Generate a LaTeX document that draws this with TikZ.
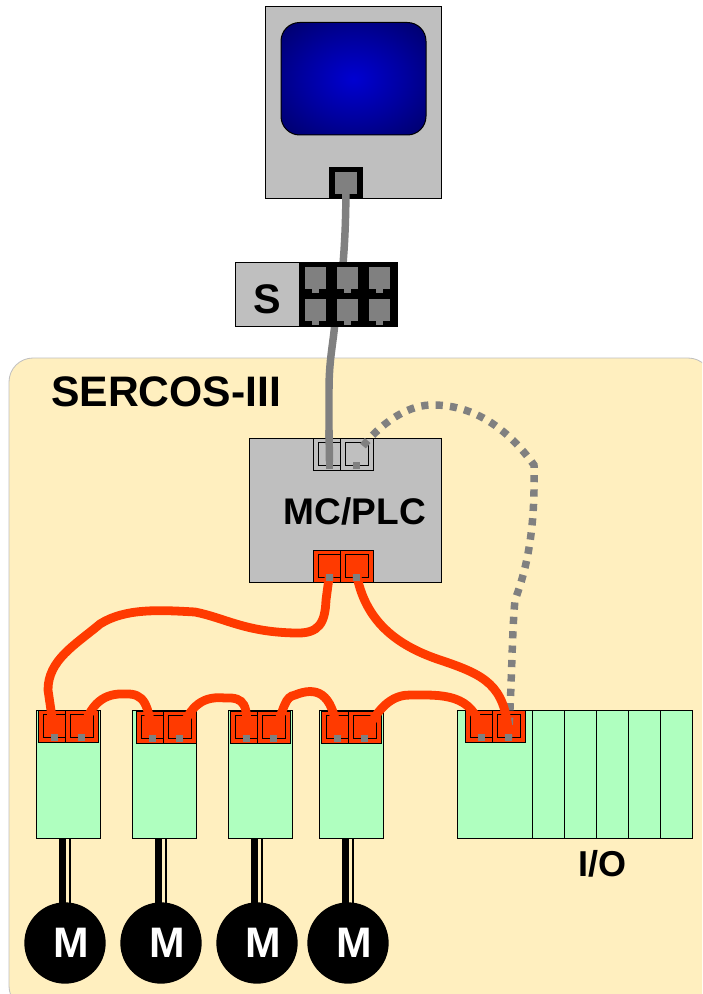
\documentclass[tikz,border=0pt]{standalone}
\usepackage{fontspec}
\setmainfont{Liberation Sans}
\usetikzlibrary{calc}
\definecolor{panelc}{HTML}{FFEFBF}
\definecolor{boxgray}{HTML}{BFBFBF}
\definecolor{cablegray}{HTML}{808080}
\definecolor{redc}{HTML}{FF3A00}
\definecolor{greenc}{HTML}{AFFFBF}
\pgfdeclareradialshading{screenshade}{\pgfpoint{0bp}{0bp}}{
  rgb(0bp)=(0,0,0.82);
  rgb(18bp)=(0,0,0.62);
  rgb(50bp)=(0,0,0.24);
  rgb(72bp)=(0,0,0.18)}
\tikzset{
  x=0.75pt,y=-0.75pt,
  box/.style={draw=black,line width=0.75pt,fill=boxgray,inner sep=0,outer sep=0,anchor=north west},
  dev/.style={draw=black,line width=0.75pt,fill=greenc,inner sep=0,outer sep=0,anchor=north west},
  sock/.style={draw=black,line width=0.75pt,inner sep=0,outer sep=0,anchor=north west,minimum height=24pt},
  redsock/.style={sock,fill=redc},
  graysock/.style={sock,fill=boxgray,line width=0.5pt},
  pin/.style={fill=cablegray,inner sep=0,outer sep=0,minimum size=5.2pt},
  cgray/.style={draw=cablegray,line width=5.6pt},
  cred/.style={draw=redc,line width=6.6pt,line cap=round},
  cdot/.style={draw=cablegray,line width=5.6pt,dash pattern=on 5.4pt off 5.4pt},
  lbl/.style={font=\bfseries,inner sep=0},
  motor/.style={circle,fill=black,inner sep=0,minimum size=61pt},
  motortext/.style={inner sep=0,text=white,font=\bfseries\fontsize{32}{32}\selectfont},
  shafta/.style={draw=black,line width=5.2pt},
  shaftb/.style={draw=black,line width=1.7pt},
  swport/.style={fill=cablegray,inner sep=0,outer sep=0,minimum width=15.8pt,minimum height=16.5pt,anchor=north west},
}
% name, x, y, style, line width of the inner outline
\newcommand{\portpair}[5]{%
  \node[#4,minimum width=20.25pt] (#1a) at (#2,#3) {};
  \node[#4,minimum width=24.75pt] (#1b) at (#2+27,#3) {};
  \draw[line width=#5] ($(#1a.north west)+(5,4)$) rectangle ($(#1a.south east)+(0,-5)$);
  \draw[line width=#5] ($(#1b.north west)+(5,4)$) rectangle ($(#1b.south east)+(-5,-5)$);
}
\newcommand{\pins}[1]{%
  \node[pin] at ($(#1a.south)+(3,-4.5)$) (#1pa) {};
  \node[pin] at ($(#1b.south)+(0,-4.5)$) (#1pb) {};
}
\newcommand{\swsock}[3]{%
  \node[swport] (#1) at (#2,#3) {};
  \fill[cablegray] (#2+7,#3+22) rectangle (#2+14,#3+26);
}
\begin{document}
\begin{tikzpicture}
\useasboundingbox (0,0) rectangle (702,994);
\clip (0,0) rectangle (702,994);
\fill[white] (0,0) rectangle (702,994);
% panel
\draw[fill=panelc,draw=boxgray,line width=0.6pt,rounded corners=18pt] (9,358) rectangle (712,1010) ;
\node[lbl,font=\bfseries\fontsize{32}{32}\selectfont,anchor=base west] (title) at (51,406) {SERCOS-III};
% monitor
\node[box,minimum width=132pt,minimum height=144pt] (monitor) at (265,6.5) {};
\shade[shading=screenshade,rounded corners=14pt] (281,22.5) rectangle (426,135);
\draw[black,line width=0.75pt,rounded corners=14pt] (281,22.5) rectangle (426,135);
\node[fill=black,inner sep=0,minimum width=25pt,minimum height=24pt,anchor=north west] (monport) at (329,166.5) {};
\node[fill=cablegray,inner sep=0,minimum width=16pt,minimum height=16.5pt,anchor=north west] (monsock) at (335,171.5) {};
% cables that pass behind the switch
\coordinate (swtop) at (343,264);
\coordinate (swbot) at (335,322);
\draw[cgray] (monsock.center) .. controls (346,215) and (345,240) .. (swtop);
\draw[cgray] (swbot) .. controls (333,345) and (329,360) .. (329,390) -- (329,440);
% switch
\node[box,minimum width=122pt,minimum height=48pt] (switch) at (235,262.5) {};
\node[fill=black,inner sep=0,minimum width=73.5pt,minimum height=48pt,anchor=north west] (swblack) at (299,262.5) {};
\node[lbl,font=\bfseries\fontsize{31}{31}\selectfont,anchor=base] (slabel) at (267,314) {S};
\swsock{sa}{305}{267}\swsock{sb}{337}{267}\swsock{sc}{369}{267}
\swsock{sd}{305}{299}\swsock{se}{337}{299}\swsock{sf}{369}{299}
% MC/PLC
\node[box,minimum width=144pt,minimum height=108pt] (plc) at (249,438) {};
\node[lbl,font=\bfseries\fontsize{27.8}{28}\selectfont,anchor=base] (plclabel) at (355,524) {MC/PLC};
\portpair{mg}{313}{438}{graysock}{0.5pt}
\portpair{mr}{313}{550}{redsock}{0.75pt}
% devices
\node[dev,minimum width=48pt,minimum height=96pt] (d1) at (36,710) {};
\node[dev,minimum width=48pt,minimum height=96pt] (d2) at (132,710) {};
\node[dev,minimum width=48pt,minimum height=96pt] (d3) at (228,710) {};
\node[dev,minimum width=48pt,minimum height=96pt] (d4) at (319,710) {};
\node[dev,minimum width=56.25pt,minimum height=96pt] (io0) at (457,710) {};
\node[dev,minimum width=24pt,minimum height=96pt] (io1) at (532,710) {};
\node[dev,minimum width=24pt,minimum height=96pt] (io2) at (564,710) {};
\node[dev,minimum width=24pt,minimum height=96pt] (io3) at (596,710) {};
\node[dev,minimum width=24pt,minimum height=96pt] (io4) at (628,710) {};
\node[dev,minimum width=24pt,minimum height=96pt] (io5) at (660,710) {};
\node[lbl,font=\bfseries\fontsize{27}{27}\selectfont,anchor=base] (iolabel) at (602,876) {I/O};
\portpair{pa}{38}{710}{redsock}{0.75pt}
\portpair{pb}{136}{711}{redsock}{0.75pt}
\portpair{pc}{230}{711}{redsock}{0.75pt}
\portpair{pd}{321}{711}{redsock}{0.75pt}
\portpair{pe}{465}{710}{redsock}{0.75pt}
% motors
\node[motor] (m1) at (65,943) {};
\node[motor] (m2) at (161,943) {};
\node[motor] (m3) at (257,943) {};
\node[motor] (m4) at (348,943) {};
\foreach \d/\m in {d1/m1,d2/m2,d3/m3,d4/m4}{
  \draw[shafta] ($(\m.center |- \d.south)+(-2.5,0)$) -- ($(\m.north)+(-2.5,2)$);
  \draw[shaftb] ($(\m.center |- \d.south)+(5,0)$) -- ($(\m.north)+(5,2)$);
  \node[motortext] at ($(\m.center)+(6,0)$) {M};
}
% pins
\pins{mg}\pins{mr}\pins{pa}\pins{pb}\pins{pc}\pins{pd}\pins{pe}
% gray cable into the PLC
\draw[cgray] (329,430) -- (mgpa.north);
% dotted cable
\coordinate (dotstart) at (363,446);
\draw[cdot] (dotstart) .. controls (380,425) and (405,406) .. (430,405)
  .. controls (470,404) and (505,425) .. (534,465)
  .. controls (535,520) and (530,560) .. (515,600)
  .. controls (512,630) and (512,680) .. (pepb.center);
% red cables
\draw[cred] (mrpa.north) -- (326,600) .. controls (325,622) and (320,634) .. (295,633)
  .. controls (245,632) and (225,618) .. (195,612)
  .. controls (160,610) and (125,608) .. (100,624)
  .. controls (75,645) and (48,660) .. (48,690) -- (papa.north);
\draw[cred] (mrpb.north) .. controls (365,620) and (395,645) .. (440,660)
  .. controls (485,675) and (505,685) .. (pepb.north);
\draw[cred] (papb.north) .. controls (90,702) and (105,693) .. (125,694)
  .. controls (145,693) and (148,705) .. (pbpa.north);
\draw[cred] (pbpb.north) .. controls (190,703) and (205,696) .. (225,698)
  .. controls (245,697) and (248,705) .. (pcpa.north);
\draw[cred] (pcpb.north) .. controls (285,705) and (285,697) .. (295,695)
  .. controls (315,687) and (333,690) .. (pdpa.north);
\draw[cred] (pdpb.north) .. controls (380,703) and (395,695) .. (410,695)
  .. controls (440,695) and (475,692) .. (pepa.north);
% pins on top
\foreach \p in {mgpa,mgpb,mrpa,mrpb,papa,papb,pbpa,pbpb,pcpa,pcpb,pdpa,pdpb,pepa,pepb}{
  \fill[cablegray] (\p.south west) rectangle (\p.north east);
}
\end{tikzpicture}
\end{document}
